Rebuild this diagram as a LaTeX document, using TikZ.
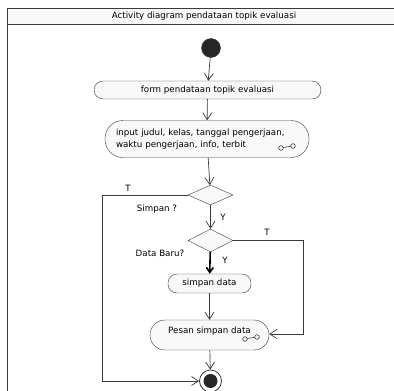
\documentclass[tikz,border=0pt]{standalone}
\usepackage{fontspec}
\setmainfont{DejaVu Sans}
\usetikzlibrary{arrows.meta,shapes.geometric}
\definecolor{lineC}{HTML}{3A3A3A}
\definecolor{fillC}{HTML}{F8F8F8}
\tikzset{
  act/.style={draw=lineC, fill=fillC, rounded corners=9pt, minimum height=18pt, inner sep=2pt, font=\fontsize{8.7}{11.5}\selectfont},
  dec/.style={draw=lineC, fill=fillC, diamond, aspect=2.25, minimum width=45pt, minimum height=20pt, inner sep=0pt},
  flow/.style={draw=lineC, line width=0.7pt, -{Straight Barb[length=7pt,width=9pt,line width=0.7pt]}},
  bold/.style={draw=black, line width=1.6pt, -{Straight Barb[length=5pt,width=7pt,line width=1.6pt]}},
  lbl/.style={font=\fontsize{8.7}{10}\selectfont, inner sep=0pt},
  icon/.style={draw=lineC, line width=0.6pt}
}
\begin{document}
\begin{tikzpicture}[x=1pt,y=-1pt]
\useasboundingbox (0,0) rectangle (394,391);
\begin{scope}
\clip (0,0) rectangle (394,391);
\fill[white] (0,0) rectangle (394,391);
\draw[lineC, line width=1.2pt, fill=white] (7.5,8.5) rectangle (420,420);
\draw[lineC, line width=1pt, fill=fillC] (7.5,8.5) rectangle (420,24.5);
\node[lbl] (title) at (204,16.5) {Activity diagram pendataan topik evaluasi};

\node[circle, fill=black!85, draw=lineC, minimum size=19pt, inner sep=0pt] (start) at (211,48) {};
\node[act, minimum width=227pt] (form) at (207.5,90) {form pendataan topik evaluasi};
\node[act, minimum width=204pt, minimum height=37pt, rounded corners=18pt, text width=182pt, align=left] (input) at (207,139) {input judul, kelas, tanggal pengerjaan,\\waktu pengerjaan, info, terbit};
\node[dec] (d1) at (210.5,195) {};
\node[dec, minimum height=23pt] (d2) at (210.5,240.5) {};
\node[act, minimum width=83pt, minimum height=19pt] (simpan) at (209.5,283.5) {simpan data};
\node[act, minimum width=119pt, minimum height=30pt, rounded corners=15pt, text depth=9pt] (pesan) at (209.5,335) {Pesan simpan data};
\node[circle, draw=lineC, fill=white, line width=0.8pt, minimum size=22pt, inner sep=0pt] (end) at (210.5,381) {};
\node[circle, fill=black!85, minimum size=14pt, inner sep=0pt] at (end) {};

% icons
\draw[icon] (281,148) circle (2.3pt) (283.2,147.5) -- (290.8,146.3) (293,146) circle (2.3pt);
\draw[icon] (245,339) circle (2.3pt) (247.2,338.5) -- (254.8,337.3) (257,337) circle (2.3pt);

\coordinate (l1) at (102,195);
\coordinate (l2) at (102,381);
\coordinate (r1) at (303,240.5);
\coordinate (r2) at (303,334);

\draw[flow] (start) -- (form);
\draw[flow] (form) -- (input);
\draw[flow] (input) -- (d1);
\draw[flow] (d1) -- (d2);
\draw[bold] (d2) -- (simpan);
\draw[flow] (simpan) -- (pesan);
\draw[flow] (pesan) -- (end);
\draw[flow] (d1.west) -- (l1) -- (l2) -- (end);
\draw[flow] (d2.east) -- (r1) -- (r2) -- (pesan.east |- r2);

\node[lbl] at (128,188) {T};
\node[lbl] at (157,209) {Simpan ?};
\node[lbl] at (223,217) {Y};
\node[lbl] at (267,232) {T};
\node[lbl] at (160,253.5) {Data Baru?};
\node[lbl] at (225,260) {Y};
\end{scope}
\end{tikzpicture}
\end{document}
